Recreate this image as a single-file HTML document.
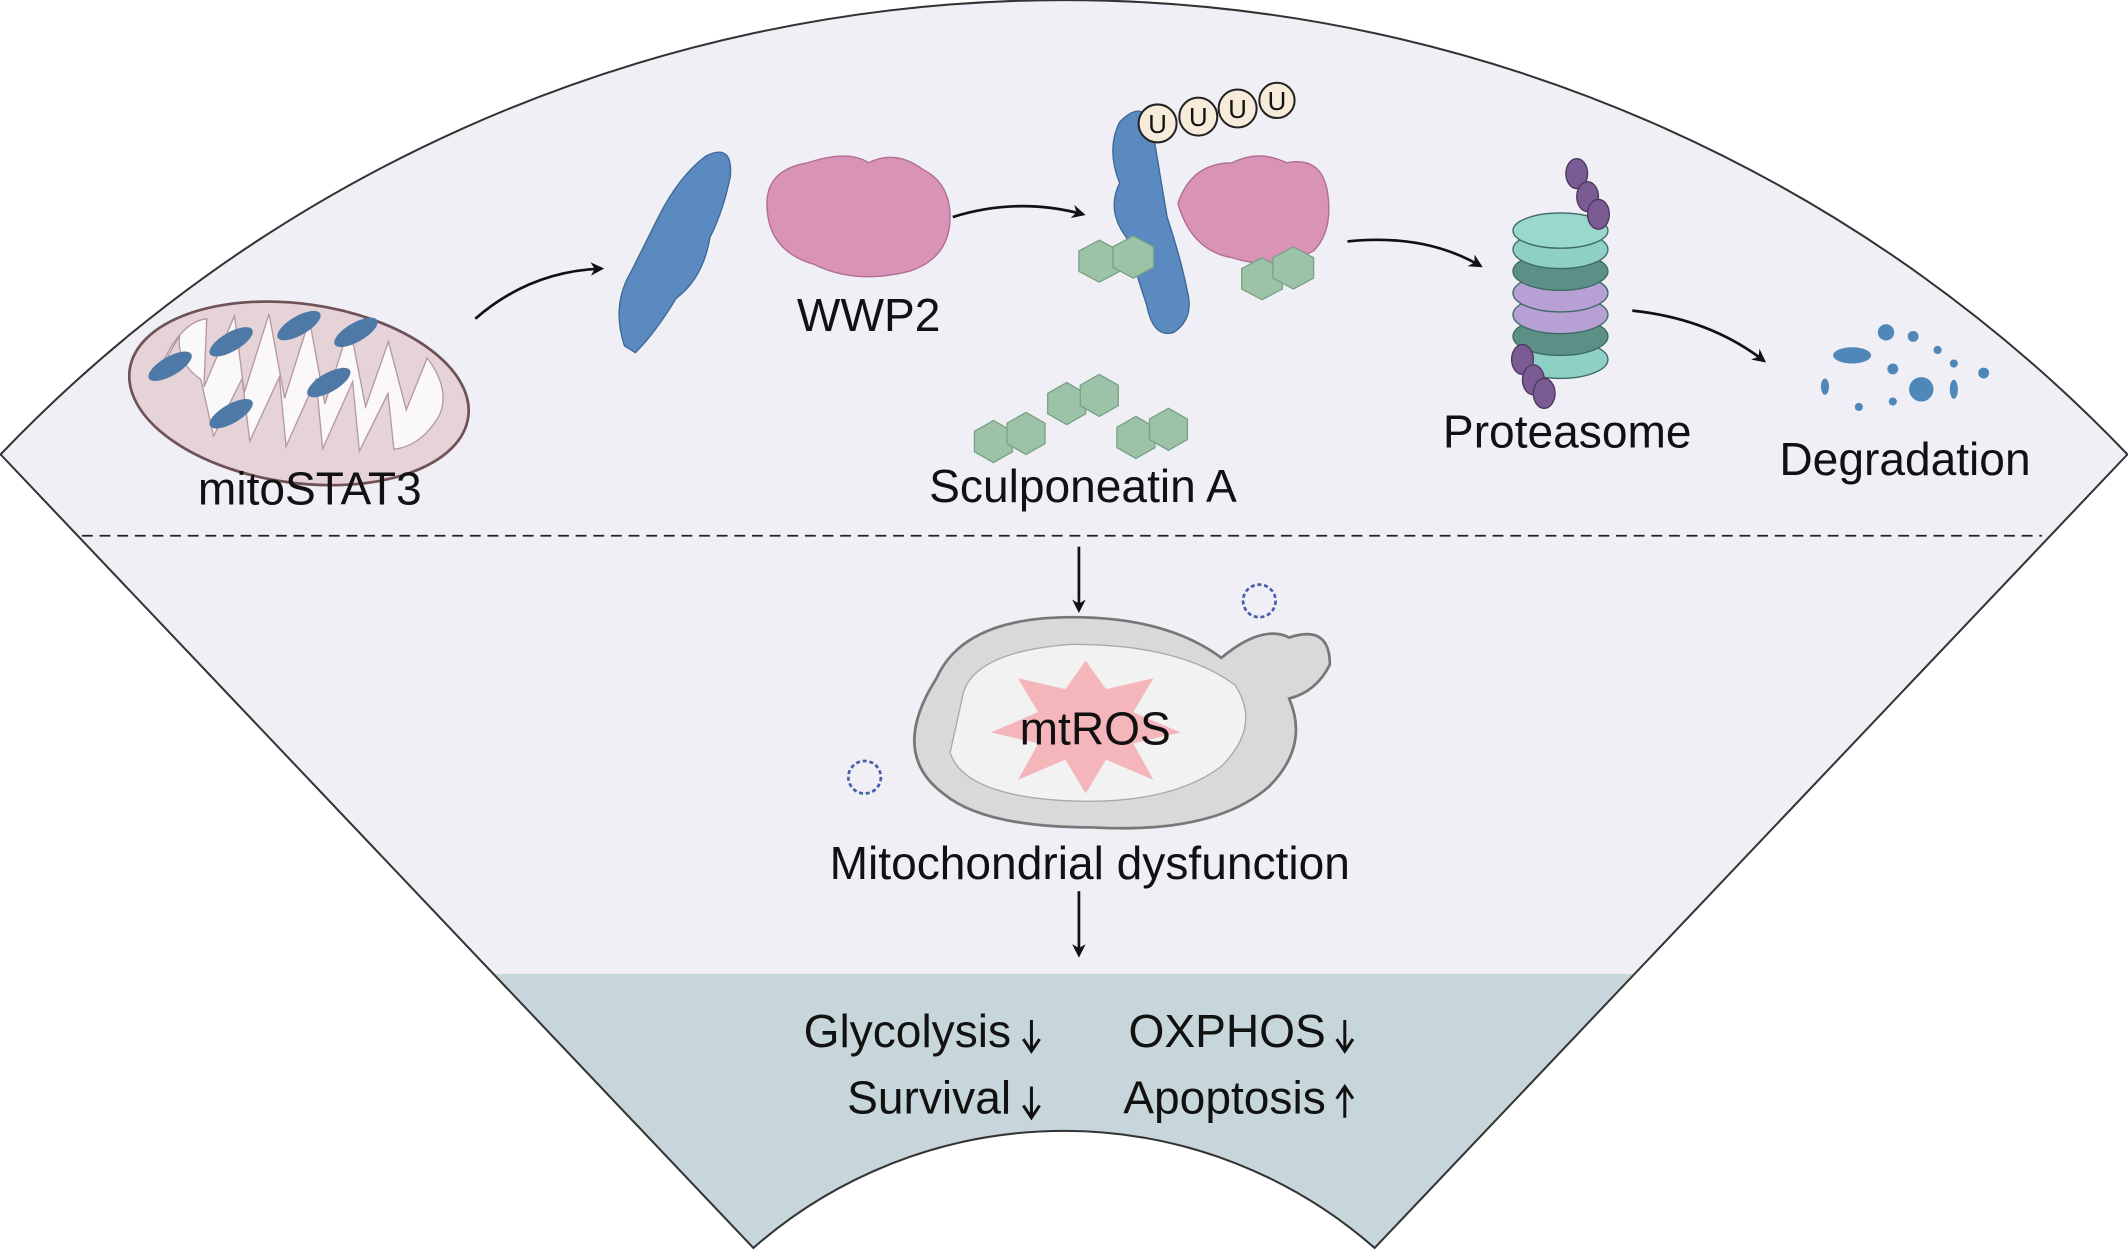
<!DOCTYPE html>
<html><head><meta charset="utf-8"><style>
html,body{margin:0;padding:0;background:#fff;}
svg{display:block;}
text{font-family:"Liberation Sans",Arial,sans-serif;fill:#111;}
</style></head><body>
<svg width="2128" height="1252" viewBox="0 0 1568 923" xmlns="http://www.w3.org/2000/svg">
<defs>
<marker id="ah" markerWidth="10" markerHeight="10" refX="8" refY="5" orient="auto" markerUnits="userSpaceOnUse"><path d="M0,0 L10,5 L0,10 L3,5 Z" fill="#111"/></marker>
<clipPath id="fan"><path d="M0,335 A1085,1085 0 0 1 1568,335 L1013,920 A347,347 0 0 0 555,920 Z"/></clipPath>
</defs>
<path d="M0,335 A1085,1085 0 0 1 1568,335 L1013,920 A347,347 0 0 0 555,920 Z" fill="#f0eff5"/>
<rect x="0" y="718" width="1568" height="210" fill="#c6d6db" clip-path="url(#fan)"/>
<path d="M0,335 A1085,1085 0 0 1 1568,335 L1013,920 A347,347 0 0 0 555,920 Z" fill="none" stroke="#333" stroke-width="1.5"/>
<line x1="60" y1="395" x2="1505" y2="395" stroke="#222" stroke-width="1.3" stroke-dasharray="8,5"/>

<g transform="rotate(8 220 290)">
<ellipse cx="220" cy="290" rx="126" ry="66" fill="#e6d3d7" stroke="#6e5258" stroke-width="2"/>
<path d="M115,290 q10,-40 30,-45 l5,50 l15,-55 l15,55 l10,-60 l20,60 l10,-60 l20,60 l10,-60 l20,58 l10,-50 l20,48 l10,-40 q20,20 15,40 q-10,25 -30,30 l-10,-40 l-15,45 l-12,-50 l-15,52 l-12,-50 l-15,52 l-12,-50 l-15,50 l-12,-45 l-15,45 l-15,-40 q-20,-10 -20,-30 z" fill="#fbf8fa" stroke="#b49aa0" stroke-width="1"/>
</g>
<g fill="#4e79a6">
<ellipse cx="125" cy="270" rx="18" ry="7" transform="rotate(-30 125 270)"/>
<ellipse cx="170" cy="252" rx="18" ry="7" transform="rotate(-30 170 252)"/>
<ellipse cx="220" cy="240" rx="18" ry="7" transform="rotate(-30 220 240)"/>
<ellipse cx="262" cy="245" rx="18" ry="7" transform="rotate(-30 262 245)"/>
<ellipse cx="170" cy="305" rx="18" ry="7" transform="rotate(-30 170 305)"/>
<ellipse cx="242" cy="282" rx="18" ry="7" transform="rotate(-30 242 282)"/>
</g>
<text x="228" y="372" font-size="34" text-anchor="middle">mitoSTAT3</text>

<g fill="none" stroke="#111" stroke-width="2">
<path d="M350,235 Q390,200 443,198" marker-end="url(#ah)"/>
<path d="M702,160 Q750,145 798,158" marker-end="url(#ah)"/>
<path d="M993,178 Q1050,172 1091,196" marker-end="url(#ah)"/>
<path d="M1203,229 Q1260,235 1300,266" marker-end="url(#ah)"/>
<line x1="795" y1="403" x2="795" y2="450" marker-end="url(#ah)"/>
<line x1="795" y1="657" x2="795" y2="704" marker-end="url(#ah)"/>
</g>

<path d="M460,255 q-10,-30 5,-55 q10,-20 20,-40 q15,-30 35,-45 q20,-10 18,15 q-5,25 -15,45 q-5,30 -25,45 q-15,25 -30,40 z" fill="#5b8ac0" stroke="#3d6896"/>
<path d="M565,150 q0,-25 30,-30 q30,-10 45,0 q20,-10 40,5 q20,10 20,35 q0,30 -30,40 q-40,10 -70,-5 q-35,-10 -35,-45 z" fill="#d893b6" stroke="#b06d90"/>
<text x="640" y="244" font-size="34" text-anchor="middle">WWP2</text>

<path d="M825,90 q20,-20 25,10 q5,30 10,60 q10,30 15,55 q5,20 -10,30 q-15,5 -20,-20 q-10,-30 -15,-50 q-15,-20 -5,-40 q-10,-25 0,-45 z" fill="#5b8ac0" stroke="#3d6896"/>
<path d="M868,150 q10,-30 40,-30 q20,-10 40,0 q25,-5 30,20 q5,30 -10,45 q-30,15 -60,5 q-30,-5 -40,-40 z" fill="#d893b6" stroke="#b06d90"/>
<g fill="#9cc3a8" stroke="#7aa286">
<polygon points="795,185 810,177 825,185 825,200 810,208 795,200"/>
<polygon points="820,182 835,174 850,182 850,197 835,205 820,197"/>
<polygon points="915,198 930,190 945,198 945,213 930,221 915,213"/>
<polygon points="938,190 953,182 968,190 968,205 953,213 938,205"/>
</g>
<g fill="#f6ecd9" stroke="#222" stroke-width="1.5">
<circle cx="853" cy="91" r="14"/><circle cx="883" cy="86" r="14"/><circle cx="912" cy="80" r="14"/><circle cx="941" cy="74" r="13"/>
</g>
<g font-size="19" text-anchor="middle"><text x="853" y="98">U</text><text x="883" y="93">U</text><text x="912" y="87">U</text><text x="941" y="81">U</text></g>

<g fill="#9cc3a8" stroke="#7aa286">
<polygon points="718,318 732,310 746,318 746,333 732,341 718,333"/>
<polygon points="742,312 756,304 770,312 770,327 756,335 742,327"/>
<polygon points="772,290 786,282 800,290 800,305 786,313 772,305"/>
<polygon points="796,284 810,276 824,284 824,299 810,307 796,299"/>
<polygon points="823,315 837,307 851,315 851,330 837,338 823,330"/>
<polygon points="847,309 861,301 875,309 875,324 861,332 847,324"/>
</g>
<text x="798" y="370" font-size="34" text-anchor="middle">Sculponeatin A</text>

<g stroke="#3d6a66" stroke-width="1">
<ellipse cx="1150" cy="265" rx="35" ry="14" fill="#8ed0c6"/>
<ellipse cx="1150" cy="248" rx="35" ry="14" fill="#5c8f86"/>
<ellipse cx="1150" cy="232" rx="35" ry="14" fill="#b7a0d3"/>
<ellipse cx="1150" cy="216" rx="35" ry="14" fill="#b7a0d3"/>
<ellipse cx="1150" cy="200" rx="35" ry="14" fill="#5c8f86"/>
<ellipse cx="1150" cy="184" rx="35" ry="14" fill="#8ed0c6"/>
<ellipse cx="1150" cy="170" rx="35" ry="13" fill="#9ad8cd"/>
</g>
<g fill="#7a5b93" stroke="#4d3760">
<ellipse cx="1162" cy="128" rx="8" ry="11"/><ellipse cx="1170" cy="145" rx="8" ry="11"/><ellipse cx="1178" cy="158" rx="8" ry="11"/>
<ellipse cx="1122" cy="265" rx="8" ry="11"/><ellipse cx="1130" cy="280" rx="8" ry="11"/><ellipse cx="1138" cy="290" rx="8" ry="11"/>
</g>
<text x="1155" y="330" font-size="34" text-anchor="middle">Proteasome</text>

<g fill="#4e87b8">
<ellipse cx="1365" cy="262" rx="14" ry="6"/><circle cx="1390" cy="245" r="6"/><circle cx="1410" cy="248" r="4"/>
<circle cx="1416" cy="287" r="9"/><circle cx="1395" cy="272" r="4"/><circle cx="1440" cy="268" r="3"/>
<circle cx="1462" cy="275" r="4"/><ellipse cx="1345" cy="285" rx="3" ry="6"/><circle cx="1395" cy="296" r="3"/>
<circle cx="1370" cy="300" r="3"/><ellipse cx="1440" cy="287" rx="3" ry="7"/><circle cx="1428" cy="258" r="3"/>
</g>
<text x="1404" y="350" font-size="34" text-anchor="middle">Degradation</text>

<path d="M690,500 q20,-45 100,-45 q70,0 110,30 q30,-25 50,-15 q30,-10 30,20 q-10,20 -30,25 q15,35 -15,65 q-40,35 -130,30 q-80,0 -110,-25 q-40,-30 -5,-85 z" fill="#d9d9d9" stroke="#777" stroke-width="2"/>
<path d="M710,510 q10,-30 80,-35 q80,0 120,30 q20,30 -10,60 q-40,30 -120,25 q-70,-5 -80,-35 z" fill="#f2f2f2" stroke="#aaa"/>
<polygon points="800,487 815,508 850,500 835,525 870,540 835,548 850,575 815,560 800,585 785,560 750,575 765,548 730,540 765,525 750,500 785,508" fill="#f4b6bb"/>
<text x="807" y="549" font-size="34" text-anchor="middle">mtROS</text>
<circle cx="928" cy="443" r="12" fill="none" stroke="#4b5fa8" stroke-width="2" stroke-dasharray="3,2"/>
<circle cx="637" cy="573" r="12" fill="none" stroke="#4b5fa8" stroke-width="2" stroke-dasharray="3,2"/>
<text x="803" y="648" font-size="34" text-anchor="middle">Mitochondrial dysfunction</text>

<g font-size="34">
<text x="745" y="772" text-anchor="end">Glycolysis</text>
<text x="745" y="821" text-anchor="end">Survival</text>
<text x="977" y="772" text-anchor="end">OXPHOS</text>
<text x="977" y="821" text-anchor="end">Apoptosis</text>
</g>
<g stroke="#111" stroke-width="2.2" fill="none">
<path d="M760,752 v22 M754,766 l6,9 l6,-9"/>
<path d="M760,801 v22 M754,815 l6,9 l6,-9"/>
<path d="M991,752 v22 M985,766 l6,9 l6,-9"/>
<path d="M991,824 v-22 M985,810 l6,-9 l6,9"/>
</g>
</svg>
</body></html>
